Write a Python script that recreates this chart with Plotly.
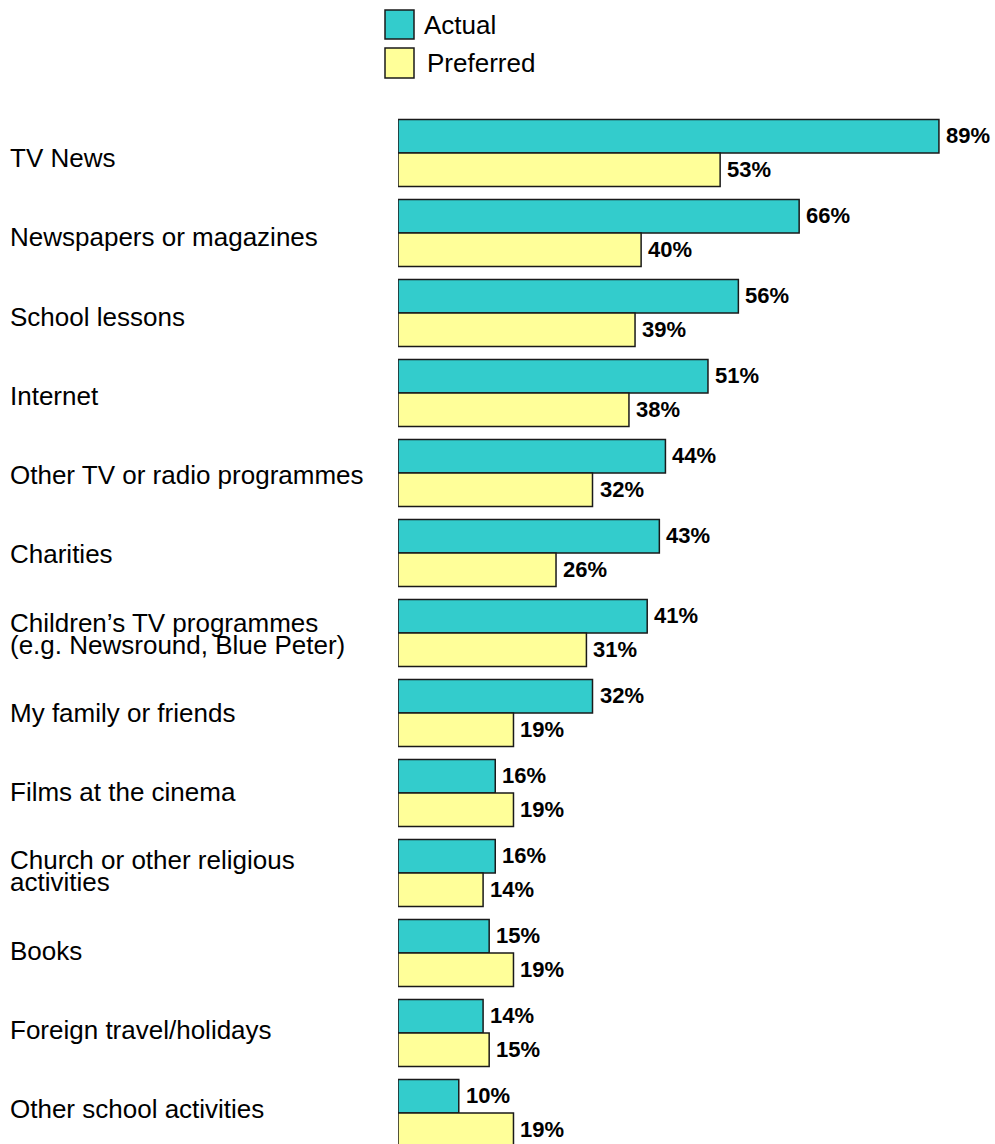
import plotly.graph_objects as go

# Sources of information about the world: actual use vs preferred
categories = [
    "TV News",
    "Newspapers or magazines",
    "School lessons",
    "Internet",
    "Other TV or radio programmes",
    "Charities",
    "Children’s TV programmes\n(e.g. Newsround, Blue Peter)",
    "My family or friends",
    "Films at the cinema",
    "Church or other religious\nactivities",
    "Books",
    "Foreign travel/holidays",
    "Other school activities",
]
actual = [89, 66, 56, 51, 44, 43, 41, 32, 16, 16, 15, 14, 10]
preferred = [53, 40, 39, 38, 32, 26, 31, 19, 19, 14, 19, 15, 19]
series_names = ["Actual", "Preferred"]

ACTUAL_COLOR = "#33CCCC"
PREF_COLOR = "#FFFF99"
EDGE = "#1a1a1a"
FONT = "Liberation Sans, Arial, sans-serif"

W, H = 995, 1144
M_L, M_T = 398, 113
PX_PER_PCT = 6.078
PX_PER_CAT = 80.0
LINE_STEP = 22  # tight leading for two-line category labels

fig = go.Figure()
for name, vals, col in [(series_names[0], actual, ACTUAL_COLOR),
                        (series_names[1], preferred, PREF_COLOR)]:
    fig.add_trace(go.Bar(
        y=categories, x=vals, name=name, orientation="h",
        marker=dict(color=col, line=dict(color=EDGE, width=1.5)),
        showlegend=False,
    ))

annotations = []
n = len(categories)
for i, cat in enumerate(categories):
    # value labels to the right of each bar
    for vals, dy in [(actual, 17), (preferred, -17)]:
        annotations.append(dict(
            x=vals[i], y=cat, xref="x", yref="y",
            text=f"<b>{vals[i]}%</b>", showarrow=False,
            xanchor="left", yanchor="middle", xshift=5, yshift=dy + 1,
            font=dict(family=FONT, size=22, color="black"),
        ))
    # category labels, left aligned near the page edge
    lines = cat.split("\n")
    base = -(5 - 9 * i / (n - 1))
    for j, line in enumerate(lines):
        off = (len(lines) - 1) / 2 - j
        annotations.append(dict(
            x=0, y=cat, xref="paper", yref="y",
            text=line, showarrow=False,
            xanchor="left", yanchor="middle", xshift=8 - M_L,
            yshift=base + off * LINE_STEP,
            font=dict(family=FONT, size=26, color="black"),
        ))

# legend drawn as boxes with labels at the top centre
shapes = []
legend_items = [(series_names[0], ACTUAL_COLOR, 10, 39, 422),
                (series_names[1], PREF_COLOR, 48, 78, 425)]
plot_w = W - M_L
plot_h = H - M_T
for name, col, y0, y1, tx in legend_items:
    shapes.append(dict(
        type="rect", xref="paper", yref="paper",
        x0=(385 - M_L) / plot_w, x1=(414 - M_L) / plot_w,
        y0=1 + (M_T - y1) / plot_h, y1=1 + (M_T - y0) / plot_h,
        fillcolor=col, line=dict(color=EDGE, width=1.5),
    ))
    annotations.append(dict(
        x=(tx - M_L) / plot_w, y=1 + (M_T - (y0 + y1) / 2) / plot_h,
        xref="paper", yref="paper", text=name, showarrow=False,
        xanchor="left", yanchor="middle",
        font=dict(family=FONT, size=26, color="black"),
    ))

fig.update_layout(
    width=W, height=H,
    margin=dict(l=M_L, r=0, t=M_T, b=0, pad=0),
    paper_bgcolor="white", plot_bgcolor="white",
    barmode="group", bargap=0.16, bargroupgap=0,
    xaxis=dict(range=[0, plot_w / PX_PER_PCT], visible=False),
    yaxis=dict(range=[-0.5 + plot_h / PX_PER_CAT, -0.5], visible=False,
               type="category"),
    annotations=annotations, shapes=shapes,
    font=dict(family=FONT),
)

fig.write_html("out.html")
